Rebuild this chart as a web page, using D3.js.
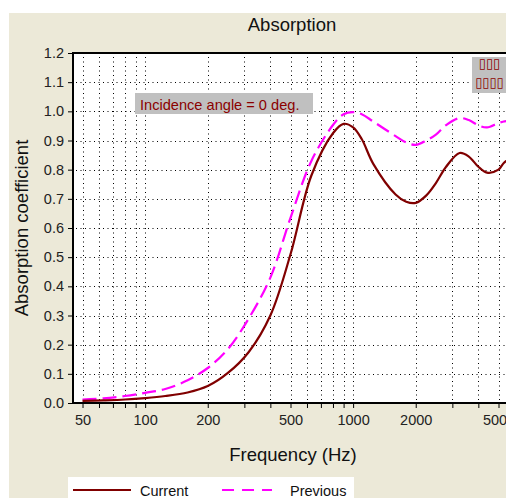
<!DOCTYPE html>
<html><head><meta charset="utf-8">
<script src="https://cdn.jsdelivr.net/npm/d3@7"></script>
<style>
html,body{margin:0;padding:0;background:#fff;overflow:hidden}
svg{display:block;font-family:"Liberation Sans",Arial,sans-serif}
</style></head>
<body>
<svg id="c" width="506" height="498"></svg>
<script>
// ---- data ----
const freqs    = [50, 63, 80, 100, 125, 160, 200, 250, 315, 400, 500, 630, 800, 900, 1000, 1100, 1250, 1600, 1800, 2000, 2250, 2500, 2800, 3250, 3600, 4000, 4400, 5000, 5300, 6000];
const current  = [0.007, 0.009, 0.012, 0.017, 0.024, 0.036, 0.058, 0.103, 0.175, 0.30, 0.51, 0.78, 0.925, 0.957, 0.945, 0.905, 0.82, 0.715, 0.69, 0.686, 0.712, 0.754, 0.81, 0.857, 0.845, 0.81, 0.79, 0.80, 0.823, 0.85];
const previous = [0.012, 0.016, 0.024, 0.035, 0.048, 0.078, 0.12, 0.185, 0.29, 0.43, 0.635, 0.83, 0.953, 0.99, 0.997, 0.99, 0.965, 0.915, 0.893, 0.885, 0.9, 0.92, 0.953, 0.977, 0.97, 0.952, 0.945, 0.96, 0.965, 0.97];
const yTicks   = [0, 0.1, 0.2, 0.3, 0.4, 0.5, 0.6, 0.7, 0.8, 0.9, 1.0, 1.1, 1.2];
const xMajor   = [50, 100, 200, 500, 1000, 2000, 5000];
const xMinor   = [50, 60, 70, 80, 90, 100, 200, 300, 400, 500, 600, 700, 800, 900, 1000, 2000, 3000, 4000, 5000, 6000];
const seriesNames = ["Current", "Previous"];
const annotation = "Incidence angle = 0 deg.";
const cornerLines = ["\u25AF\u25AF\u25AF", "\u25AF\u25AF\u25AF\u25AF"];

// ---- layout ----
const L = 73, T = 53, B = 403;
const svg = d3.select("#c");
const x = d3.scaleLog().domain([45, 5000]).range([L, 498.5]);
const y = d3.scaleLinear().domain([0, 1.2]).range([B, T]);
const FONT = "Liberation Sans, Arial, sans-serif";

// panel background
svg.append("rect").attr("x", 9).attr("y", 13).attr("width", 506).attr("height", 498).attr("fill", "#ece9d8");
// plot area
svg.append("rect").attr("x", L).attr("y", T).attr("width", 520).attr("height", B - T).attr("fill", "#fff");

// grid
const grid = svg.append("g").attr("stroke", "#000").attr("stroke-width", 1).attr("stroke-dasharray", "1,3.5");
grid.selectAll(".vg").data(xMinor).join("line")
  .attr("x1", d => Math.round(x(d)) + 0.5).attr("x2", d => Math.round(x(d)) + 0.5)
  .attr("y1", T + 4).attr("y2", B);
grid.selectAll(".hg").data(yTicks.filter(d => d > 0 && d < 1.2)).join("line")
  .attr("x1", L + 3).attr("x2", 506)
  .attr("y1", d => Math.round(y(d)) + 0.5).attr("y2", d => Math.round(y(d)) + 0.5);

// curves
const line = d3.line().x(d => x(d[0])).y(d => y(d[1])).curve(d3.curveCatmullRom.alpha(0.5));
svg.append("path").datum(freqs.map((f, i) => [f, previous[i]]))
  .attr("d", line).attr("fill", "none").attr("stroke", "#ff00ff").attr("stroke-width", 2.2)
  .attr("stroke-dasharray", "14,6");
svg.append("path").datum(freqs.map((f, i) => [f, current[i]]))
  .attr("d", line).attr("fill", "none").attr("stroke", "#800000").attr("stroke-width", 2.2);

// frame
svg.append("line").attr("x1", L).attr("x2", 506).attr("y1", T).attr("y2", T).attr("stroke", "#000").attr("stroke-width", 2);
svg.append("line").attr("x1", L).attr("x2", L).attr("y1", T - 1).attr("y2", B + 1).attr("stroke", "#000").attr("stroke-width", 2);
svg.append("line").attr("x1", L).attr("x2", 506).attr("y1", B).attr("y2", B).attr("stroke", "#000").attr("stroke-width", 2);

// y axis
const yAxis = svg.append("g").attr("transform", `translate(${L - 1},0)`)
  .call(d3.axisLeft(y).tickValues(yTicks).tickFormat(d3.format(".1f")).tickSize(4).tickPadding(4));
yAxis.select(".domain").remove();
yAxis.selectAll("text").attr("font-size", 14.5).attr("fill", "#222").attr("font-family", FONT);

// x axis
const xAxis = svg.append("g").attr("transform", `translate(0,${B + 1})`)
  .call(d3.axisBottom(x).tickValues(xMinor).tickFormat(d => xMajor.includes(d) ? String(d) : "").tickSize(4).tickPadding(7));
xAxis.select(".domain").remove();
xAxis.selectAll("text").attr("font-size", 14.5).attr("fill", "#222").attr("font-family", FONT);

// titles
svg.append("text").attr("x", 292).attr("y", 31).attr("text-anchor", "middle").attr("font-size", 18.5).attr("fill", "#111").text("Absorption");
svg.append("text").attr("x", 293).attr("y", 461).attr("text-anchor", "middle").attr("font-size", 18.5).attr("fill", "#111").text("Frequency (Hz)");
svg.append("text").attr("transform", "translate(28,228) rotate(-90)").attr("text-anchor", "middle").attr("font-size", 18.5).attr("fill", "#111").text("Absorption coefficient");

// annotation box
svg.append("rect").attr("x", 135).attr("y", 93).attr("width", 178).attr("height", 21).attr("fill", "#c0c0c0");
svg.append("text").attr("x", 140).attr("y", 109.5).attr("font-size", 14.6).attr("fill", "#8b0000").text(annotation);

// corner box
svg.append("rect").attr("x", 472).attr("y", 57).attr("width", 40).attr("height", 36).attr("fill", "#c0c0c0");
svg.selectAll(".cl").data(cornerLines).join("text")
  .attr("x", 489.5).attr("y", (d, i) => 67.5 + i * 19).attr("text-anchor", "middle")
  .attr("font-size", 13.5).attr("font-family", "DejaVu Sans").attr("letter-spacing", -0.3)
  .attr("fill", "#8b0000").text(d => d);

// legend
const lg = svg.append("g");
lg.append("rect").attr("x", 68).attr("y", 477).attr("width", 286).attr("height", 30).attr("fill", "#fff");
lg.append("line").attr("x1", 73).attr("x2", 131).attr("y1", 490).attr("y2", 490).attr("stroke", "#800000").attr("stroke-width", 2);
lg.append("line").attr("x1", 222).attr("x2", 272).attr("y1", 490).attr("y2", 490).attr("stroke", "#ff00ff").attr("stroke-width", 2).attr("stroke-dasharray", "12,8");
lg.append("text").attr("x", 140).attr("y", 496).attr("font-size", 14.5).attr("fill", "#111").text(seriesNames[0]);
lg.append("text").attr("x", 290).attr("y", 496).attr("font-size", 14.5).attr("fill", "#111").text(seriesNames[1]);
</script>
</body></html>
